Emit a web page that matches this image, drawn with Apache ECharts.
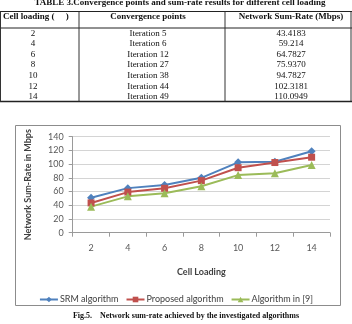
<!DOCTYPE html>
<html>
<head>
<meta charset="utf-8">
<script src="https://cdn.jsdelivr.net/npm/echarts@6/dist/echarts.min.js"></script>
<style>
  html, body { margin: 0; padding: 0; background: #fff; }
  #chart { width: 352px; height: 324px; }
</style>
</head>
<body>
<div id="chart"></div>
<script>
// table + figure data
var cellLoading = [2, 4, 6, 8, 10, 12, 14];
var convergenceIter = [5, 6, 12, 27, 38, 44, 49];
var sumRateText = ['43.4183', '59.214', '64.7827', '75.9370', '94.7827', '102.3181', '110.0949'];

var srmRate = [51, 65, 69.6, 80, 102.6, 103.5, 118.7];
var proposedRate = [43.4183, 59.214, 64.7827, 75.937, 94.7827, 102.3181, 110.0949];
var ref9Rate = [38, 53, 57.5, 67.7, 84, 86.6, 98.7];

var seriesNames = ['SRM algorithm', 'Proposed algorithm', 'Algorithm in [9]'];
var colors = ['#4F81BD', '#C0504D', '#9BBB59'];

var chart = echarts.init(document.getElementById('chart'));

var serif = '"Liberation Serif", "Times New Roman", serif';
var sans = 'Lato, "Open Sans", sans-serif';

// table drawn as graphic elements
var graphic = [];
function txt(s, x, y, font, align) {
    graphic.push({
        type: 'text',
        style: { text: s, x: x, y: y, font: font, fill: '#111', textAlign: align || 'center', textVerticalAlign: 'middle' }
    });
}
function hline(y, x1, x2, w) {
    graphic.push({ type: 'line', shape: { x1: x1, y1: y, x2: x2, y2: y }, style: { stroke: '#222', lineWidth: w || 1 } });
}
function vline(x, y1, y2) {
    graphic.push({ type: 'line', shape: { x1: x, y1: y1, x2: x, y2: y2 }, style: { stroke: '#333', lineWidth: 1 } });
}

txt('TABLE 3.Convergence points and sum-rate results for different cell loading', 180, 3, 'bold 9px ' + serif);
var tTop = 11.5, tHead = 28, tBot = 101.5;
var colX = [0.5, 79, 225, 351];
hline(tTop, 0, 352);
hline(tHead, 0, 352);
hline(tBot, 0, 352, 1.5);
colX.forEach(function (x) { vline(x, tTop, tBot); });
txt('Cell loading (     )', 3, 17, 'bold 9px ' + serif, 'left');
txt('Convergence points', 148, 17, 'bold 9px ' + serif);
txt('Network Sum-Rate (Mbps)', 291, 17, 'bold 9px ' + serif);
cellLoading.forEach(function (c, i) {
    var y = 33.3 + i * 10.6;
    txt(String(c), 33, y, '9px ' + serif);
    txt('Iteration ' + convergenceIter[i], 148, y, '9px ' + serif);
    txt(sumRateText[i], 291, y, '9px ' + serif);
});

// chart frame
graphic.push({
    type: 'rect', z: -1,
    shape: { x: 15.5, y: 125.5, width: 325, height: 180 },
    style: { fill: 'none', stroke: '#8c8c8c', lineWidth: 1 }
});
txt('Fig.5.    Network sum-rate achieved by the investigated algorithms', 186, 316, 'bold 8px ' + serif);

var rates = [srmRate, proposedRate, ref9Rate];
var symbols = ['diamond', 'rect', 'triangle'];
var symbolSizes = [8, 7, 8];

var series = rates.map(function (d, i) {
    return {
        name: seriesNames[i],
        type: 'line',
        data: d,
        symbol: symbols[i],
        symbolSize: symbolSizes[i],
        lineStyle: { color: colors[i], width: 2 },
        itemStyle: { color: colors[i] }
    };
});

var option = {
    animation: false,
    backgroundColor: '#fff',
    grid: { left: 72.7, right: 22, top: 136.7, bottom: 91.3 },
    legend: {
        data: seriesNames,
        top: 290,
        left: 'center',
        itemWidth: 18,
        itemHeight: 7,
        itemGap: 7,
        textStyle: { fontSize: 9, fontFamily: sans, color: '#404040', padding: [0, 0, 0, -3] }
    },
    xAxis: {
        type: 'category',
        data: cellLoading.map(String),
        boundaryGap: true,
        name: 'Cell Loading',
        nameLocation: 'middle',
        nameGap: 35,
        nameTextStyle: { fontWeight: 'bold', fontSize: 9, fontFamily: sans, color: '#404040' },
        axisLine: { lineStyle: { color: '#9a9a9a' } },
        axisTick: { show: true, length: 4, lineStyle: { color: '#9a9a9a' } },
        axisLabel: { margin: 11, fontSize: 9, fontFamily: sans, color: '#595959' }
    },
    yAxis: {
        type: 'value',
        min: 0,
        max: 140,
        interval: 20,
        name: 'Network Sum-Rate in Mbps',
        nameLocation: 'middle',
        nameGap: 40,
        nameTextStyle: { fontWeight: 'bold', fontSize: 9, fontFamily: sans, color: '#404040' },
        axisLine: { show: true, lineStyle: { color: '#9a9a9a' } },
        axisTick: { show: true, length: 4, lineStyle: { color: '#9a9a9a' } },
        axisLabel: { margin: 9, fontSize: 9, fontFamily: sans, color: '#595959' },
        splitLine: { lineStyle: { color: '#d4d4d4' } }
    },
    graphic: graphic,
    series: series
};

chart.setOption(option);
</script>
</body>
</html>
